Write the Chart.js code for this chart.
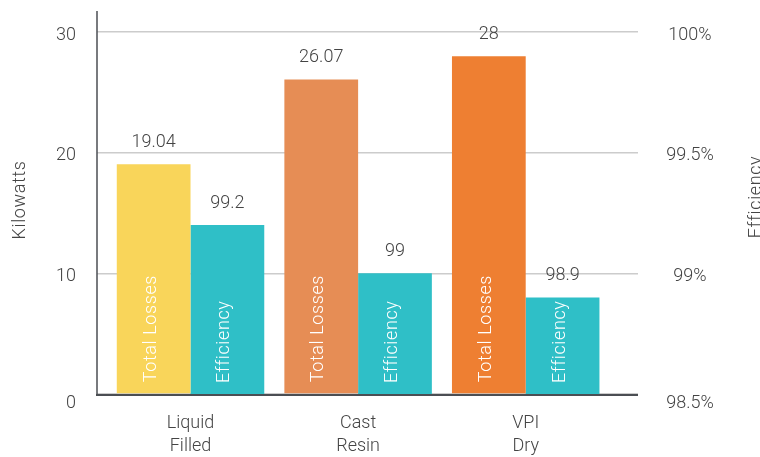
<!DOCTYPE html>
<html>
<head>
<meta charset="utf-8">
<script src="https://cdn.jsdelivr.net/npm/chart.js@4"></script>
<style>
  html, body { margin: 0; padding: 0; background: #fff; }
  #chart { display: block; }
</style>
</head>
<body>
<canvas id="chart" width="760" height="457"></canvas>
<script>
const categories = [["Liquid", "Filled"], ["Cast", "Resin"], ["VPI", "Dry"]];
const totalLosses = [19.04, 26.07, 28];
const efficiency = [99.2, 99, 98.9];
const kwTicks = [0, 10, 20, 30];
const effTicks = [98.5, 99, 99.5, 100];

const lossColors = ["#F9D55A", "#E68D55", "#EE7F32"];
const efficiencyColor = "#2FBFC7";
const FONT = "Roboto, 'Noto Sans', sans-serif";
const TEXT = "#444444";
const AXIS = "#4b4e53";

// bars live on a linear x axis so the groups can sit anywhere inside the grid
const toPoints = (arr) => arr.map((v, i) => ({ x: i, y: v }));

const decorations = {
  id: "decorations",
  afterDatasetsDraw(chart) {
    const { ctx, chartArea: area, scales } = chart;
    ctx.save();

    // axis lines
    ctx.strokeStyle = AXIS;
    ctx.lineWidth = 1.5;
    ctx.beginPath();
    ctx.moveTo(area.left, 11);
    ctx.lineTo(area.left, area.bottom + 2);
    ctx.stroke();
    ctx.lineWidth = 2;
    ctx.beginPath();
    ctx.moveTo(area.left - 1, area.bottom + 1);
    ctx.lineTo(area.right, area.bottom + 1);
    ctx.stroke();

    ctx.font = "300 18px " + FONT;
    ctx.fillStyle = TEXT;
    ctx.textBaseline = "middle";

    // tick labels, left in kW and right in %
    ctx.textAlign = "right";
    kwTicks.forEach((t) => {
      const y = scales.y.getPixelForValue(t) + (t === 0 ? 9 : 3);
      ctx.fillText(String(t), 76, y);
    });
    ctx.textAlign = "center";
    effTicks.forEach((t) => {
      const y = scales.y1.getPixelForValue(t) + (t === effTicks[0] ? 9 : 3);
      ctx.fillText(t + "%", 690, y);
    });

    // value above each bar and series name inside it
    chart.data.datasets.forEach((ds, di) => {
      const meta = chart.getDatasetMeta(di);
      meta.data.forEach((bar, i) => {
        ctx.fillStyle = TEXT;
        ctx.textAlign = "center";
        ctx.textBaseline = "alphabetic";
        ctx.fillText(String(ds.data[i].y), bar.x, bar.y - 17);

        ctx.save();
        ctx.translate(bar.x + 2, Math.min(bar.base, area.bottom) - 11);
        ctx.rotate(-Math.PI / 2);
        ctx.textAlign = "left";
        ctx.letterSpacing = "0.6px";
        ctx.fillStyle = "#ffffff";
        ctx.fillText(ds.label, 0, 0);
        ctx.restore();
      });
    });

    // axis titles, both reading bottom to top
    ctx.fillStyle = TEXT;
    ctx.textAlign = "center";
    ctx.textBaseline = "alphabetic";
    ctx.letterSpacing = "0.6px";
    [["Kilowatts", 25, 200], ["Efficiency", 761, 197]].forEach(([txt, x, y]) => {
      ctx.save();
      ctx.translate(x, y);
      ctx.rotate(-Math.PI / 2);
      ctx.fillText(txt, 0, 0);
      ctx.restore();
    });

    ctx.restore();
  }
};

new Chart(document.getElementById("chart"), {
  type: "bar",
  data: {
    datasets: [
      {
        label: "Total Losses",
        data: toPoints(totalLosses),
        backgroundColor: lossColors,
        yAxisID: "y",
        categoryPercentage: 0.88,
        barPercentage: 1.0,
      },
      {
        label: "Efficiency",
        data: toPoints(efficiency),
        backgroundColor: efficiencyColor,
        yAxisID: "y1",
        base: effTicks[0],
        categoryPercentage: 0.88,
        barPercentage: 1.0,
      },
    ],
  },
  options: {
    responsive: false,
    animation: false,
    layout: { padding: { top: 32, left: 0, right: 0, bottom: 0 } },
    plugins: {
      legend: { display: false },
      tooltip: { enabled: false },
    },
    scales: {
      x: {
        type: "linear",
        offset: false,
        min: -0.558,
        max: 2.67,
        afterBuildTicks: (scale) => {
          scale.ticks = categories.map((_, i) => ({ value: i }));
        },
        afterFit: (scale) => { scale.height = 63; },
        grid: { display: false, offset: false },
        border: { display: false },
        ticks: {
          padding: 10,
          color: TEXT,
          font: { family: FONT, size: 18, weight: "300", lineHeight: "23px" },
          maxRotation: 0,
          autoSkip: false,
          callback: (v) => categories[v],
        },
      },
      y: {
        position: "left",
        min: kwTicks[0],
        max: kwTicks[kwTicks.length - 1],
        afterBuildTicks: (scale) => {
          scale.ticks = kwTicks.map((v) => ({ value: v }));
        },
        afterFit: (scale) => { scale.width = 97; },
        grid: { color: "#cccccc", lineWidth: 1.5, drawTicks: false },
        border: { display: false },
        ticks: { display: false },
      },
      y1: {
        position: "right",
        min: effTicks[0],
        max: effTicks[effTicks.length - 1],
        afterBuildTicks: (scale) => {
          scale.ticks = effTicks.map((v) => ({ value: v }));
        },
        afterFit: (scale) => { scale.width = 122; },
        grid: { display: false },
        border: { display: false },
        ticks: { display: false },
      },
    },
  },
  plugins: [decorations],
});
</script>
</body>
</html>
